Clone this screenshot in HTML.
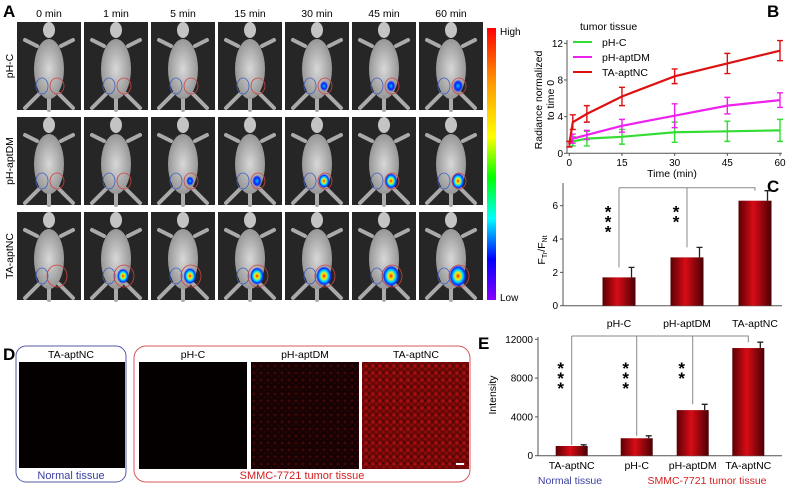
<!DOCTYPE html>
<html><head><meta charset="utf-8"><style>
body{margin:0;background:#fff;width:793px;height:490px;overflow:hidden;font-family:"Liberation Sans",Arial,sans-serif}
svg{position:absolute;left:0;top:0}
text{font-family:"Liberation Sans",Arial,sans-serif}
</style></head><body>
<svg id="fig" width="793" height="490" viewBox="0 0 793 490">
<defs>
<linearGradient id="barg" x1="0" x2="1" y1="0" y2="0"><stop offset="0" stop-color="#5a0004"/><stop offset="0.45" stop-color="#d80c16"/><stop offset="1" stop-color="#4a0004"/></linearGradient>
<linearGradient id="cbar" x1="0" x2="0" y1="0" y2="1"><stop offset="0" stop-color="#ff0000"/><stop offset="0.2" stop-color="#ff9900"/><stop offset="0.4" stop-color="#ffff00"/><stop offset="0.55" stop-color="#00ff00"/><stop offset="0.7" stop-color="#00ffff"/><stop offset="0.85" stop-color="#0000ff"/><stop offset="1" stop-color="#8800ff"/></linearGradient>
<radialGradient id="mouseg" cx="0.5" cy="0.5" r="0.6"><stop offset="0" stop-color="#d8d8d8"/><stop offset="1" stop-color="#8a8a8a"/></radialGradient>
<radialGradient id="hot" cx="0.5" cy="0.5" r="0.5"><stop offset="0" stop-color="#ff2000"/><stop offset="0.3" stop-color="#ffee00"/><stop offset="0.55" stop-color="#00e0ff"/><stop offset="0.8" stop-color="#0030ff"/><stop offset="1" stop-color="#0030ff" stop-opacity="0"/></radialGradient>
<radialGradient id="cool" cx="0.5" cy="0.5" r="0.5"><stop offset="0" stop-color="#00c0ff"/><stop offset="0.6" stop-color="#0020ff"/><stop offset="1" stop-color="#0020ff" stop-opacity="0"/></radialGradient>
<pattern id="speck1" width="7" height="7" patternUnits="userSpaceOnUse"><rect width="7" height="7" fill="#160202"/><circle cx="2" cy="2" r="1.5" fill="#3e0606"/><circle cx="5.5" cy="5" r="1" fill="#2e0404"/></pattern>
<pattern id="speck2" width="7" height="7" patternUnits="userSpaceOnUse"><rect width="7" height="7" fill="#6a0808"/><circle cx="2" cy="2" r="1.8" fill="#a80e0e"/><circle cx="5.5" cy="5" r="1.4" fill="#900c0c"/><circle cx="5" cy="1.5" r="0.8" fill="#300202"/></pattern>
</defs>

<text x="3" y="17" font-size="17" font-weight="bold">A</text>
<g id="panelA"></g>
<rect x="487" y="28" width="9" height="272" fill="url(#cbar)"/>
<text x="500" y="35" font-size="10">High</text>
<text x="500" y="301" font-size="10">Low</text>

<text x="767" y="17" font-size="17" font-weight="bold">B</text>
<g id="panelB"></g>

<text x="767" y="192" font-size="17" font-weight="bold">C</text>
<g id="panelC"></g>

<text x="3" y="360" font-size="17" font-weight="bold">D</text>
<rect x="16" y="346" width="110" height="136" rx="10" fill="none" stroke="#5558a8" stroke-width="1"/>
<rect x="134" y="346" width="336" height="136" rx="12" fill="none" stroke="#d65a5a" stroke-width="1"/>
<text x="71" y="358" font-size="10.5" text-anchor="middle">TA-aptNC</text>
<text x="193" y="358" font-size="10.5" text-anchor="middle">pH-C</text>
<text x="305" y="358" font-size="10.5" text-anchor="middle">pH-aptDM</text>
<text x="416" y="358" font-size="10.5" text-anchor="middle">TA-aptNC</text>
<rect x="19" y="362" width="106" height="106" fill="#050000"/>
<rect x="139" y="362" width="108" height="107" fill="#050000"/>
<rect x="251" y="362" width="108" height="107" fill="url(#speck1)"/>
<rect x="362" y="362" width="107" height="107" fill="url(#speck2)"/>
<rect x="456" y="463" width="8" height="2" fill="#fff"/>
<text x="71" y="479" font-size="11" fill="#3a3fa0" text-anchor="middle">Normal tissue</text>
<text x="302" y="479" font-size="11" fill="#d42020" text-anchor="middle">SMMC-7721 tumor tissue</text>

<text x="478" y="349" font-size="17" font-weight="bold">E</text>
<g id="panelE"></g>
</svg>
<script>
const aTimes = ["0 min","1 min","5 min","15 min","30 min","45 min","60 min"];
const aRows = ["pH-C","pH-aptDM","TA-aptNC"];
const aSignal = [[0,0,0,0,0.15,0.25,0.35],[0,0,0.1,0.3,0.45,0.55,0.6],[0,0.5,0.6,0.7,0.85,0.95,1.0]];
const bTimes = [0,1,5,15,30,45,60];
const bPHC = [1,1.3,1.6,1.8,2.3,2.4,2.5];
const bPHCerr = [0.3,0.5,0.8,0.8,1.1,1.1,1.2];
const bAptDM = [1,1.6,2.0,3.0,4.1,5.2,5.8];
const bAptDMerr = [0.3,0.5,0.5,0.7,1.3,0.9,0.8];
const bAptNC = [1,3.4,4.3,6.2,8.4,9.8,11.2];
const bAptNCerr = [0.3,0.8,0.9,1.0,0.8,1.1,1.1];
const bTicksY = [0,4,8,12];
const bTicksX = [0,15,30,45,60];
const cCats = ["pH-C","pH-aptDM","TA-aptNC"];
const cVals = [1.7,2.9,6.3];
const cErr = [0.6,0.6,0.6];
const cTicks = [0,2,4,6];
const cStars = ["***","**",""];
const eCats = ["TA-aptNC","pH-C","pH-aptDM","TA-aptNC"];
const eVals = [1000,1800,4700,11100];
const eErr = [120,250,600,600];
const eTicks = [0,4000,8000,12000];
const eStars = ["***","***","**",""];

const NS="http://www.w3.org/2000/svg";
function mk(parent,tag,attrs,txt){const e=document.createElementNS(NS,tag);for(const k in attrs)e.setAttribute(k,attrs[k]);if(txt!==undefined)e.textContent=txt;parent.appendChild(e);return e;}

const gA=document.getElementById('panelA');
aTimes.forEach((t,c)=>{const el=mk(gA,'text',{x:49+c*67,y:17,'font-size':10.5,'text-anchor':'middle'},t);

});
aRows.forEach((r,ri)=>{const y0=22+ri*95;const el=mk(gA,'text',{transform:`translate(13,${y0+44}) rotate(-90)`,'font-size':10.5,'text-anchor':'middle'},r);


aTimes.forEach((t,c)=>{const x0=17+c*67;const g=mk(gA,'g',{});


mk(g,'rect',{x:x0,y:y0,width:64,height:88,fill:'#262626'});
const cx=x0+32;
mk(g,'path',{d:`M${cx-12},${y0+24} L${cx-24},${y0+18} M${cx+12},${y0+24} L${cx+24},${y0+18} M${cx-10},${y0+72} L${cx-24},${y0+86} M${cx+10},${y0+72} L${cx+24},${y0+86} M${cx},${y0+76} L${cx},${y0+88}`,stroke:'#aaa','stroke-width':4,'stroke-linecap':'round',fill:'none'});
mk(g,'ellipse',{cx:cx,cy:y0+8,rx:6,ry:8,fill:'#c4c4c4'});
mk(g,'ellipse',{cx:cx,cy:y0+47,rx:15,ry:30,fill:'url(#mouseg)'});
const s=aSignal[ri][c];
if(s>0){const rr=4+s*7;mk(g,'ellipse',{cx:cx+7,cy:y0+64,rx:rr*0.8,ry:rr,fill:s>0.4?'url(#hot)':'url(#cool)'});}
mk(g,'ellipse',{cx:cx-7,cy:y0+64,rx:6,ry:8,fill:'none',stroke:'#4060c0','stroke-width':0.8});
mk(g,'ellipse',{cx:cx+8,cy:y0+64,rx:ri==2?10:7,ry:ri==2?11:8,fill:'none',stroke:'#d04040','stroke-width':0.8});
});});

const gB=document.getElementById('panelB');
const bx=v=>569.3+v*(780-569.3)/60, by=v=>153.3-v*(110/12);
mk(gB,'line',{x1:567,y1:153.3,x2:567,y2:40,stroke:'#555'});
mk(gB,'line',{x1:567,y1:153.3,x2:782,y2:153.3,stroke:'#555'});
bTicksY.forEach(v=>{mk(gB,'line',{x1:564,x2:567,y1:by(v),y2:by(v),stroke:'#555'});const el=mk(gB,'text',{x:563,y:by(v)+3.5,'font-size':10,'text-anchor':'end'},v);

});
bTicksX.forEach(v=>{mk(gB,'line',{x1:bx(v),x2:bx(v),y1:153.3,y2:156,stroke:'#555'});const el=mk(gB,'text',{x:bx(v),y:166,'font-size':10,'text-anchor':'middle'},v);

});
let el=mk(gB,'text',{x:672,y:177,'font-size':10.5,'text-anchor':'middle'},'Time (min)');


el=mk(gB,'text',{transform:'translate(542,100) rotate(-90)','font-size':10.5,'text-anchor':'middle'},'Radiance normalized');


el=mk(gB,'text',{transform:'translate(554,100) rotate(-90)','font-size':10.5,'text-anchor':'middle'},'to time 0');


const series=[[bPHC,bPHCerr,'#33dd33','pH-C'],[bAptDM,bAptDMerr,'#ee22ee','pH-aptDM'],[bAptNC,bAptNCerr,'#dd1111','TA-aptNC']];
el=mk(gB,'text',{x:580,y:30,'font-size':10.5},'tumor tissue');


series.forEach((s,i)=>{
 const [vals,errs,col,name]=s;
 const ln=mk(gB,'polyline',{points:vals.map((v,j)=>bx(bTimes[j])+','+by(v)).join(' '),fill:'none',stroke:col,'stroke-width':2.2});
 
 
 vals.forEach((v,j)=>{const x=bx(bTimes[j]);mk(gB,'path',{d:`M${x},${by(v-errs[j])}V${by(v+errs[j])}M${x-3},${by(v-errs[j])}h6M${x-3},${by(v+errs[j])}h6`,stroke:col,'stroke-width':1.4,fill:'none'});});
 const ly=42+i*15;
 const lg=mk(gB,'line',{x1:573,x2:592,y1:ly,y2:ly,stroke:col,'stroke-width':2});
 
 
 const lt=mk(gB,'text',{x:602,y:ly+4,'font-size':10.5},name);
 
 
});

function barChart(g,opts){
 const {x0,xEnd,y0,yTop,vmax,cats,vals,errs,ticks,centers,bw,stars,bracketY,labelY,fs}=opts;
 const sy=v=>y0-v*(y0-yTop)/vmax;
 mk(g,'line',{x1:x0,y1:y0,x2:x0,y2:opts.axisTop,stroke:'#555'});
 mk(g,'line',{x1:x0,y1:y0,x2:xEnd,y2:y0,stroke:'#555'});
 ticks.forEach(v=>{mk(g,'line',{x1:x0-3,x2:x0,y1:sy(v),y2:sy(v),stroke:'#555'});const t=mk(g,'text',{x:x0-5,y:sy(v)+3.5,'font-size':fs,'text-anchor':'end'},v);
 
 });
 const last=centers[centers.length-1];
 mk(g,'path',{d:`M${centers[0]},${bracketY}H${last}V${sy(vals[vals.length-1]+errs[errs.length-1])}`,stroke:'#888',fill:'none','stroke-width':1});
 cats.forEach((c,i)=>{
  const cx=centers[i];
  if(i<cats.length-1) mk(g,'line',{x1:cx,x2:cx,y1:bracketY,y2:sy(vals[i]+errs[i]),stroke:'#888'});
  mk(g,'path',{d:`M${cx+bw/2-4},${sy(vals[i])}V${sy(vals[i]+errs[i])}m-3,0h6`,stroke:'#222','stroke-width':1.3,fill:'none'});
  const r=mk(g,'rect',{x:cx-bw/2,y:sy(vals[i]),width:bw,height:y0-sy(vals[i]),fill:'url(#barg)'});
  
  
  const t=mk(g,'text',{x:cx,y:labelY,'font-size':10.5,'text-anchor':'middle'},c);
  
  
  if(stars[i]){const n=stars[i].length;for(let k=0;k<n;k++){const st=mk(g,'text',{x:cx-11,y:bracketY+opts.starStart+k*10,'font-size':17,'font-weight':'bold','text-anchor':'middle'},'*');
  
  }}
 });
}
const gC=document.getElementById('panelC');
barChart(gC,{x0:563,xEnd:782,y0:305.7,yTop:205.7,vmax:6,axisTop:183,cats:cCats,vals:cVals,errs:cErr,ticks:cTicks,centers:[619,687,755],bw:33,stars:cStars,bracketY:187.7,labelY:327,fs:10,starStart:30});
el=mk(gC,'text',{transform:'translate(545,250) rotate(-90)','font-size':10.5,'text-anchor':'middle'},'FTr/FNt');
el.innerHTML='F<tspan font-size="7" dy="2">Tr</tspan><tspan dy="-2">/F</tspan><tspan font-size="7" dy="2">Nt</tspan>';



const gE=document.getElementById('panelE');
barChart(gE,{x0:538,xEnd:782,y0:455.7,yTop:339.3,vmax:12000,axisTop:337,cats:eCats,vals:eVals,errs:eErr,ticks:eTicks,centers:[571.7,636.7,692.7,748.3],bw:32,stars:eStars,bracketY:336,labelY:469,fs:10,starStart:38});
el=mk(gE,'text',{transform:'translate(496,395) rotate(-90)','font-size':10.5,'text-anchor':'middle'},'Intensity');


el=mk(gE,'text',{x:570,y:484,'font-size':10.5,fill:'#3a3fa0','text-anchor':'middle'},'Normal tissue');


el=mk(gE,'text',{x:707,y:484,'font-size':10.5,fill:'#d42020','text-anchor':'middle'},'SMMC-7721 tumor tissue');


</script>
</body></html>
